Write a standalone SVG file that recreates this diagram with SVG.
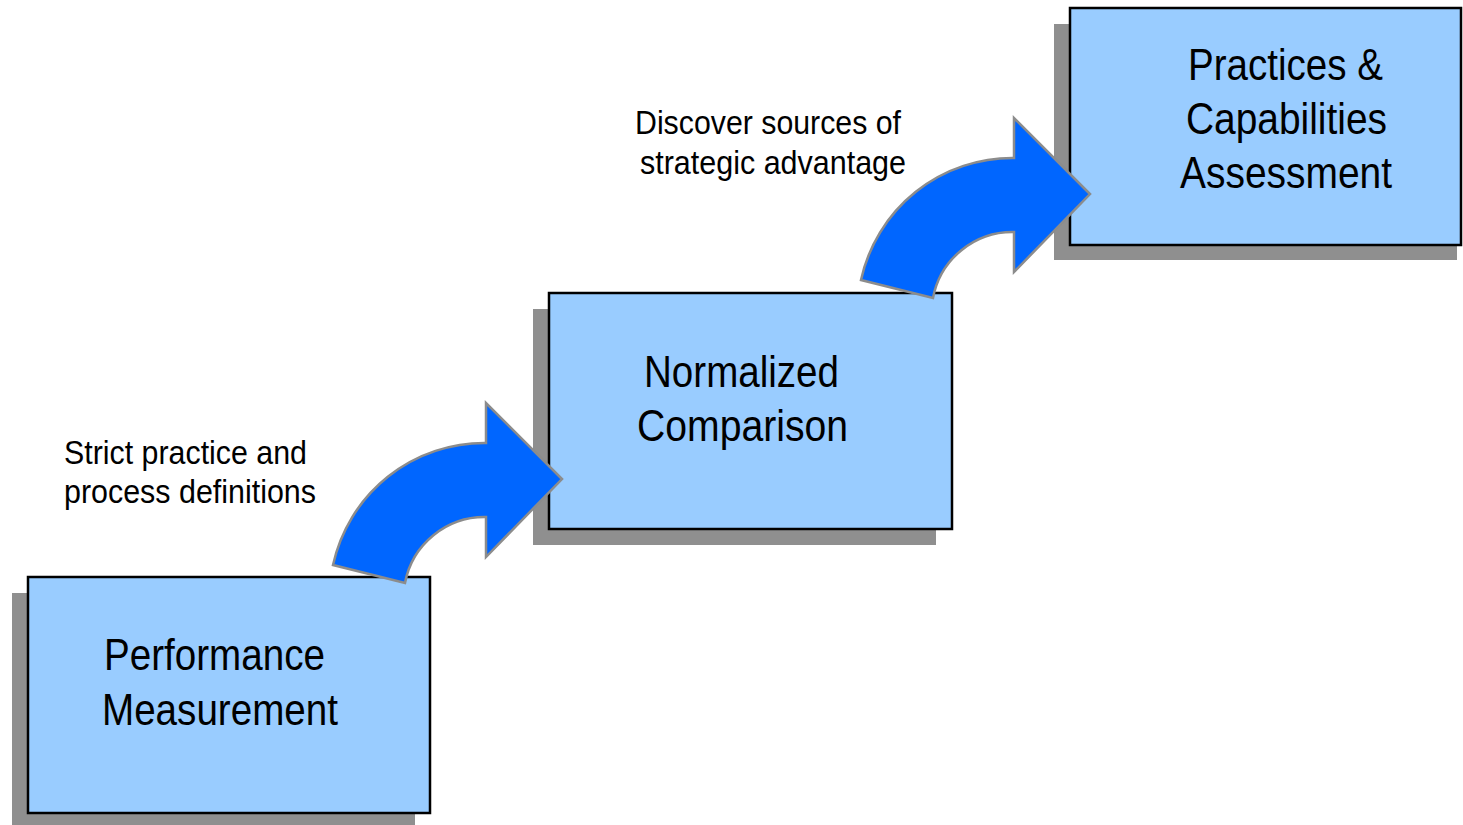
<svg xmlns="http://www.w3.org/2000/svg" width="1463" height="825" viewBox="0 0 1463 825">
  <defs>
    <style>
      .shadow { fill: #8f8f8f; }
      .box { fill: #99ccff; stroke: #000000; stroke-width: 2.5; }
      .title { font-family: "Liberation Sans", Arial, sans-serif; font-size: 44px; fill: #000000; }
      .label { font-family: "Liberation Sans", Arial, sans-serif; font-size: 34px; fill: #000000; }
      .bend { fill: #0066ff; stroke: #8c8c8c; stroke-width: 2.5; stroke-linejoin: miter; }
    </style>
    <!-- curved block arrow, drawn relative to the centre of its bend -->
    <path id="bend-arrow" d="M -153,-32 A 155 155 0 0 1 0,-154 L 0,-194 L 76,-118 L 0,-40 L 0,-80 A 81 81 0 0 0 -81,-14 Z"/>
  </defs>

  <rect width="1463" height="825" fill="#ffffff"/>

  <g id="node-performance">
    <rect class="shadow" x="12" y="593" width="403" height="232"/>
    <rect class="box" x="28" y="577" width="402" height="236"/>
    <text class="title" x="104" y="670" textLength="221" lengthAdjust="spacingAndGlyphs">Performance</text>
    <text class="title" x="102" y="725" textLength="236" lengthAdjust="spacingAndGlyphs">Measurement</text>
  </g>

  <g id="node-normalized">
    <rect class="shadow" x="533" y="309" width="403" height="236"/>
    <rect class="box" x="549" y="293" width="403" height="236"/>
    <text class="title" x="644" y="387" textLength="195" lengthAdjust="spacingAndGlyphs">Normalized</text>
    <text class="title" x="637" y="441" textLength="211" lengthAdjust="spacingAndGlyphs">Comparison</text>
  </g>

  <g id="node-practices">
    <rect class="shadow" x="1054" y="24" width="403" height="236"/>
    <rect class="box" x="1070" y="8" width="391" height="237"/>
    <text class="title" x="1188" y="80" textLength="195" lengthAdjust="spacingAndGlyphs">Practices &amp;</text>
    <text class="title" x="1186" y="134" textLength="201" lengthAdjust="spacingAndGlyphs">Capabilities</text>
    <text class="title" x="1180" y="188" textLength="212" lengthAdjust="spacingAndGlyphs">Assessment</text>
  </g>

  <g id="labels">
    <text class="label" x="64" y="464" textLength="243" lengthAdjust="spacingAndGlyphs">Strict practice and</text>
    <text class="label" x="64" y="503" textLength="252" lengthAdjust="spacingAndGlyphs">process definitions</text>
    <text class="label" x="635" y="134" textLength="266" lengthAdjust="spacingAndGlyphs">Discover sources of</text>
    <text class="label" x="640" y="174" textLength="266" lengthAdjust="spacingAndGlyphs">strategic advantage</text>
  </g>

  <g id="connectors">
    <use href="#bend-arrow" class="bend" transform="translate(486,597)"/>
    <use href="#bend-arrow" class="bend" transform="translate(1014,312)"/>
  </g>
</svg>
